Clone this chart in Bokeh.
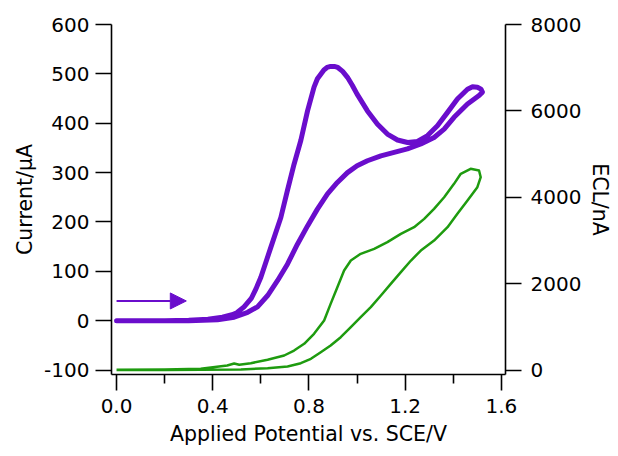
from bokeh.plotting import figure
from bokeh.models import Range1d, LinearAxis, FixedTicker, Arrow, NormalHead, ColumnDataSource
from bokeh.embed import file_html
from bokeh.resources import INLINE

# ---- data ----
cv_potential = [0.0, 0.1, 0.2, 0.3, 0.38, 0.44, 0.48, 0.50, 0.53, 0.56, 0.58, 0.6, 0.641, 0.683,
                0.71, 0.738, 0.766, 0.794, 0.821, 0.835, 0.862, 0.875, 0.89, 0.905, 0.92, 0.94,
                0.96, 0.98, 1.0, 1.043, 1.085, 1.126, 1.168, 1.21, 1.251, 1.293, 1.334, 1.376,
                1.417, 1.459, 1.48, 1.5, 1.515, 1.521,
                1.507, 1.459, 1.403, 1.362, 1.32, 1.265, 1.209, 1.154, 1.099, 1.043, 1.0, 0.96,
                0.918, 0.877, 0.835, 0.794, 0.752, 0.711, 0.669, 0.628, 0.586, 0.545, 0.489,
                0.42, 0.3, 0.2, 0.1, 0.0]
cv_current = [0, 0, 0, 1, 3, 7, 12, 16, 28, 45, 65, 88, 148, 209,
              263, 317, 365, 425, 473, 490, 508, 513, 515, 515, 513, 505,
              493, 477, 459, 425, 398, 378, 366, 361, 363, 375, 395, 422,
              449, 469, 474, 473, 469, 463,
              456, 439, 412, 388, 371, 358, 348, 341, 334, 324, 314, 300,
              280, 257, 226, 192, 155, 115, 81, 51, 28, 17, 7,
              2, 0, 0, 0, 0]

ecl_potential = [0.0, 0.2, 0.35, 0.46, 0.489, 0.51, 0.558, 0.628, 0.697, 0.738, 0.78, 0.821,
                 0.863, 0.89, 0.918, 0.946, 0.974, 1.015, 1.071, 1.126, 1.182, 1.237, 1.279,
                 1.32, 1.362, 1.403, 1.431, 1.472, 1.507, 1.514,
                 1.5, 1.459, 1.417, 1.376, 1.32, 1.265, 1.224, 1.182, 1.14, 1.099, 1.057,
                 1.015, 0.974, 0.932, 0.89, 0.849, 0.808, 0.766, 0.711, 0.628, 0.517, 0.35,
                 0.2, 0.0]
ecl_intensity = [5, 10, 28, 104, 150, 120, 158, 236, 336, 451, 607, 838,
                 1146, 1532, 1917, 2304, 2535, 2690, 2806, 2960, 3153, 3307, 3500,
                 3732, 4001, 4311, 4543, 4659, 4619, 4464,
                 4233, 3924, 3616, 3307, 2998, 2767, 2535, 2265, 1995, 1725, 1455,
                 1223, 991, 760, 567, 413, 259, 158, 81, 43, 12, 5,
                 2, 0]

arrow_x = [0.0, 0.29]
arrow_y = [40, 40]

x_ticks = [0.0, 0.4, 0.8, 1.2, 1.6]
x_tick_labels = ["0.0", "0.4", "0.8", "1.2", "1.6"]
x_minor_ticks = [0.2, 0.6, 1.0, 1.4]
y_ticks = [-100, 0, 100, 200, 300, 400, 500, 600]
y_tick_labels = ["-100", "0", "100", "200", "300", "400", "500", "600"]
ecl_ticks = [0, 2000, 4000, 6000, 8000]

PURPLE = "#6A0DCC"
GREEN = "#1E9B0F"
FONT = "DejaVu Sans"
FS_TICK = "20px"
FS_LABEL = "20.5px"

p = figure(frame_width=394, frame_height=350,
           min_border_left=111, min_border_top=24, min_border_right=96, min_border_bottom=76,
           x_range=Range1d(-0.021, 1.617), y_range=Range1d(-109, 600),
           output_backend="svg", toolbar_location=None, tools="")
p.extra_y_ranges = {"ecl": Range1d(-104, 8000)}
p.outline_line_color = None
p.xgrid.visible = False
p.ygrid.visible = False
p.background_fill_color = "white"
p.border_fill_color = "white"

p.line(ecl_potential, ecl_intensity, y_range_name="ecl", line_color=GREEN, line_width=2.5,
       line_join="round")
p.line(cv_potential, cv_current, line_color=PURPLE, line_width=5, line_join="round",
       line_cap="round")

asrc = ColumnDataSource(dict(x0=[arrow_x[0]], y0=[arrow_y[0]], x1=[arrow_x[1]], y1=[arrow_y[1]]))
p.add_layout(Arrow(x_start="x0", y_start="y0", x_end="x1", y_end="y1", source=asrc,
                   line_color=PURPLE, line_width=2,
                   end=NormalHead(size=16, fill_color=PURPLE, line_color=PURPLE, line_width=1)))

def style(ax):
    ax.axis_line_width = 1.6
    ax.axis_line_color = "black"
    ax.major_tick_line_width = 1.6
    ax.major_tick_line_color = "black"
    ax.minor_tick_line_width = 1.6
    ax.major_tick_out = 16
    ax.major_tick_in = 0
    ax.minor_tick_in = 0
    ax.major_label_text_font = FONT
    ax.major_label_text_font_size = FS_TICK
    ax.major_label_text_color = "black"
    ax.axis_label_text_font = FONT
    ax.axis_label_text_font_size = FS_LABEL
    ax.axis_label_text_font_style = "normal"
    ax.axis_label_text_color = "black"

xa = p.xaxis[0]
style(xa)
xa.ticker = FixedTicker(ticks=x_ticks, minor_ticks=x_minor_ticks)
xa.major_label_overrides = {t: l for t, l in zip(x_ticks, x_tick_labels)}
xa.minor_tick_out = 9
xa.major_label_standoff = 8
xa.axis_label = "Applied Potential vs. SCE/V"
xa.axis_label_standoff = 6

ya = p.yaxis[0]
style(ya)
ya.ticker = FixedTicker(ticks=y_ticks, minor_ticks=[])
ya.major_label_overrides = {t: l for t, l in zip(y_ticks, y_tick_labels)}
ya.minor_tick_out = 0
ya.major_label_standoff = 6
ya.axis_label = "Current/μA"
ya.axis_label_standoff = 4

ra = LinearAxis(y_range_name="ecl", axis_label="ECL/nA")
style(ra)
ra.ticker = FixedTicker(ticks=ecl_ticks, minor_ticks=[])
ra.minor_tick_out = 0
ra.major_label_standoff = 9
ra.axis_label_standoff = 4
p.add_layout(ra, "right")

open("out.html", "w").write(file_html(p, INLINE))
